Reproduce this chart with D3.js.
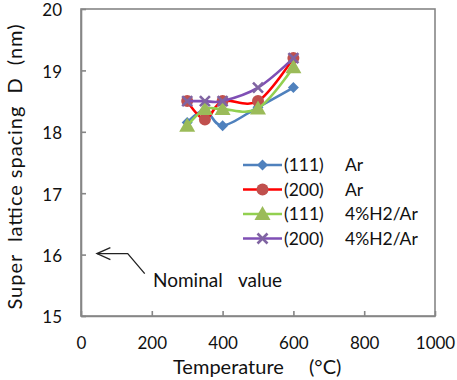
<!DOCTYPE html>
<html><head><meta charset="utf-8">
<script src="https://cdn.jsdelivr.net/npm/d3@7"></script>
<style>body{margin:0;background:#fff}svg{display:block}text{font-family:Lato,"Open Sans",sans-serif;fill:#111}</style>
</head><body><svg id="c" width="457" height="380"></svg>
<script>
const temps = [300, 350, 400, 500, 600];
const s111Ar = [18.15, 18.35, 18.1, 18.4, 18.72];
const s200Ar = [18.5, 18.2, 18.5, 18.5, 19.2];
const s111H2 = [18.1, 18.37, 18.37, 18.38, 19.05];
const s200H2 = [18.5, 18.5, 18.5, 18.72, 19.2];
const seriesNames = ["(111)", "(200)", "(111)", "(200)"];
const seriesGas = ["Ar", "Ar", "4%H2/Ar", "4%H2/Ar"];
const xTicks = [0, 200, 400, 600, 800, 1000];
const yTicks = [15, 16, 17, 18, 19, 20];
const nominal = 16;

const series = [
  {vals: s111Ar, line: "#4F81BD", fill: "#4F81BD", sym: "diamond"},
  {vals: s200Ar, line: "#FF0000", fill: "#C0504D", sym: "circle"},
  {vals: s111H2, line: "#92D050", fill: "#9BBB59", sym: "triangle"},
  {vals: s200H2, line: "#7F4FB5", fill: "#8064A2", sym: "x"}
];

const svg = d3.select("#c");
const L = 81, R = 435, T = 9, B = 316;
const x = d3.scaleLinear().domain([0, 1000]).range([L, R]);
const y = d3.scaleLinear().domain([15, 20]).range([B, T]);
const axisCol = "#868686";

svg.append("rect").attr("x", L).attr("y", T).attr("width", R - L).attr("height", B - T)
  .attr("fill", "none").attr("stroke", axisCol).attr("stroke-width", 1.6);

const xa = svg.append("g").attr("transform", `translate(0,${B})`)
  .call(d3.axisBottom(x).tickValues(xTicks).tickFormat(d3.format("d")).tickSizeInner(-5).tickSizeOuter(0).tickPadding(21));
const ya = svg.append("g").attr("transform", `translate(${L},0)`)
  .call(d3.axisLeft(y).tickValues(yTicks).tickFormat(d3.format("d")).tickSizeInner(-5).tickSizeOuter(0).tickPadding(19));
[xa, ya].forEach(a => {
  a.select(".domain").attr("stroke", axisCol).attr("stroke-width", 1.6);
  a.selectAll(".tick line").attr("stroke", axisCol).attr("stroke-width", 1.6);
  a.selectAll(".tick text").attr("font-size", 17).attr("font-family", "Lato,'Open Sans',sans-serif").attr("fill", "#111");
});
ya.selectAll(".tick text").attr("dy", "0.4em");

// x title: "Temperature" then "(°C)"
svg.append("text").attr("x", 173).attr("y", 374).attr("font-size", 20).text("Temperature");
svg.append("text").attr("x", 309).attr("y", 374).attr("font-size", 20).text("(\u00B0C)");
svg.append("text").attr("transform", "translate(22,167) rotate(-90)").attr("text-anchor", "middle")
  .attr("font-size", 20).style("white-space", "pre").text("Super  lattice spacing  D  (nm)")
  .attr("textLength", 285).attr("lengthAdjust", "spacing");

const ny = y(nominal) - 1;
svg.append("path").attr("d", `M${x(45)},${ny} L${x(132)},${ny} L${x(180)},${ny + 20}`)
  .attr("fill", "none").attr("stroke", "#222").attr("stroke-width", 1.3);
svg.append("path").attr("d", `M${x(83)},${ny - 6} L${x(45)},${ny} L${x(83)},${ny + 6}`)
  .attr("fill", "none").attr("stroke", "#222").attr("stroke-width", 1.3);
svg.append("text").attr("x", 153).attr("y", 287).attr("font-size", 19).text("Nominal");
svg.append("text").attr("x", 238).attr("y", 287).attr("font-size", 19).text("value");

const line = d3.line().x((d, i) => x(temps[i])).y(d => y(d)).curve(d3.curveCardinal.tension(0));
function marker(g, sym, cx, cy, col) {
  if (sym === "diamond") g.append("path").attr("d", `M${cx},${cy-5.5}L${cx+5.5},${cy}L${cx},${cy+5.5}L${cx-5.5},${cy}Z`).attr("fill", col);
  else if (sym === "circle") g.append("circle").attr("cx", cx).attr("cy", cy).attr("r", 6).attr("fill", col);
  else if (sym === "triangle") g.append("path").attr("d", `M${cx},${cy-8}L${cx+8},${cy+6}L${cx-8},${cy+6}Z`).attr("fill", col);
  else g.append("path").attr("d", `M${cx-5},${cy-5}L${cx+5},${cy+5}M${cx+5},${cy-5}L${cx-5},${cy+5}`).attr("stroke", col).attr("stroke-width", 2.6);
}
series.forEach(s => {
  svg.append("path").attr("d", line(s.vals)).attr("fill", "none").attr("stroke", s.line).attr("stroke-width", 2.6);
  const g = svg.append("g");
  s.vals.forEach((v, i) => marker(g, s.sym, x(temps[i]), y(v), s.fill));
});

series.forEach((s, i) => {
  const ly = 165 + i * 24.5;
  svg.append("line").attr("x1", 243).attr("x2", 282).attr("y1", ly).attr("y2", ly).attr("stroke", s.line).attr("stroke-width", 2.6);
  marker(svg.append("g"), s.sym, 262.5, ly, s.fill);
  svg.append("text").attr("x", 284).attr("y", ly + 6).attr("font-size", 17.5).text(seriesNames[i]);
  svg.append("text").attr("x", 345).attr("y", ly + 6).attr("font-size", 17.5).text(seriesGas[i]);
});
</script></body></html>
